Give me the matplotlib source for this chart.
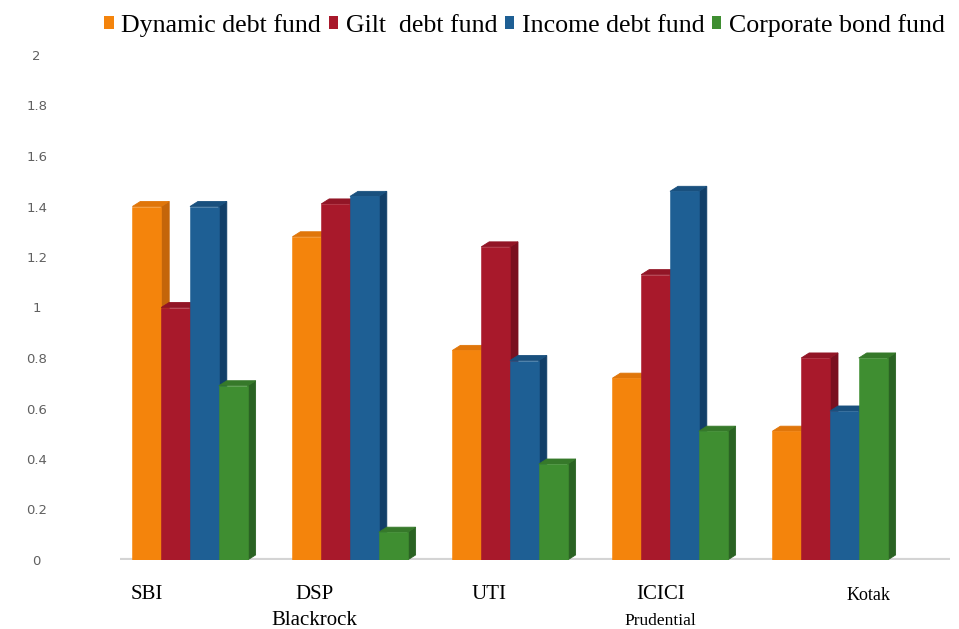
import matplotlib
matplotlib.use("Agg")
import matplotlib.pyplot as plt
from matplotlib.patches import Polygon, Patch
from matplotlib.transforms import blended_transform_factory
import numpy as np

# data
funds = ['SBI', 'DSP\nBlackrock', 'UTI', 'ICICI', 'Kotak']
series = ['Dynamic debt fund', 'Gilt  debt fund', 'Income debt fund', 'Corporate bond fund']
dynamic = [1.40, 1.28, 0.83, 0.72, 0.51]
gilt = [1.00, 1.41, 1.24, 1.13, 0.80]
income = [1.40, 1.44, 0.79, 1.46, 0.59]
corporate = [0.69, 0.11, 0.38, 0.51, 0.80]
yticks = [0, 0.2, 0.4, 0.6, 0.8, 1, 1.2, 1.4, 1.6, 1.8, 2]

# styling
front = ['#f4840c', '#a8192b', '#1e5f94', '#3f8e31']
side = ['#c4650a', '#7a1020', '#123f68', '#2a6323']
top = ['#e0760a', '#921526', '#19507e', '#36792a']
bar_w = 0.18
dx, dy = 0.05, 0.02
label_shift = [-0.27, -0.22, -0.13, -0.06, 0.24]

fig = plt.figure(figsize=(9.59, 6.29), dpi=100)
ax = fig.add_axes([120 / 959, 69 / 629, 830 / 959, 505 / 629])

x = np.arange(len(funds))
values = [dynamic, gilt, income, corporate]
z = 3
for g in range(len(funds)):
    for s, vals in enumerate(values):
        left = x[g] + (s - 2) * bar_w
        h = vals[g]
        r = left + bar_w
        ax.add_patch(Polygon([(r, 0), (r + dx, dy), (r + dx, h + dy), (r, h)],
                             closed=True, facecolor=side[s], edgecolor=side[s], lw=0.6, zorder=z))
        ax.add_patch(Polygon([(left, h), (left + dx, h + dy), (r + dx, h + dy), (r, h)],
                             closed=True, facecolor=top[s], edgecolor=top[s], lw=0.6, zorder=z))
        ax.bar(left, h, width=bar_w, align='edge', color=front[s], edgecolor=front[s],
               lw=0.4, zorder=z + 1)
        z += 2

ax.axhline(0, color='#d4d4d4', lw=3, zorder=1)
ax.set_xlim(-0.4375, 4.75)
ax.set_ylim(0, 2)
for sp in ax.spines.values():
    sp.set_visible(False)
ax.set_xticks([])
ax.set_yticks(yticks)
ax.set_yticklabels([f'{t:g}' for t in yticks], color='#606060', fontsize=9.5,
                   family='DejaVu Sans', ha='center')
ax.tick_params(axis='y', length=0, pad=60)

trans = blended_transform_factory(ax.transData, ax.transAxes)
serif = 'Liberation Serif'
for i, name in enumerate(funds):
    xt = x[i] + label_shift[i]
    if name == 'ICICI':
        ax.text(xt, -0.05, 'ICICI', transform=trans, ha='center', va='top',
                fontsize=15, family=serif)
        ax.text(xt, -0.105, 'Prudential', transform=trans, ha='center', va='top',
                fontsize=12.5, family=serif)
    elif name == 'Kotak':
        ax.text(xt, -0.053, name, transform=trans, ha='center', va='top',
                fontsize=13, family=serif)
    else:
        ax.text(xt, -0.05, name, transform=trans, ha='center', va='top',
                fontsize=15, family=serif, linespacing=1.45)

handles = [Patch(facecolor=front[s], edgecolor='none') for s in range(4)]
fig.legend(handles, series, loc='upper center', bbox_to_anchor=(0.547, 1.015), ncol=4,
           frameon=False, prop={'family': serif, 'size': 18.6}, handlelength=0.35,
           handleheight=0.35, handletextpad=0.3, columnspacing=0.3)

fig.savefig('out.png', dpi=100)
